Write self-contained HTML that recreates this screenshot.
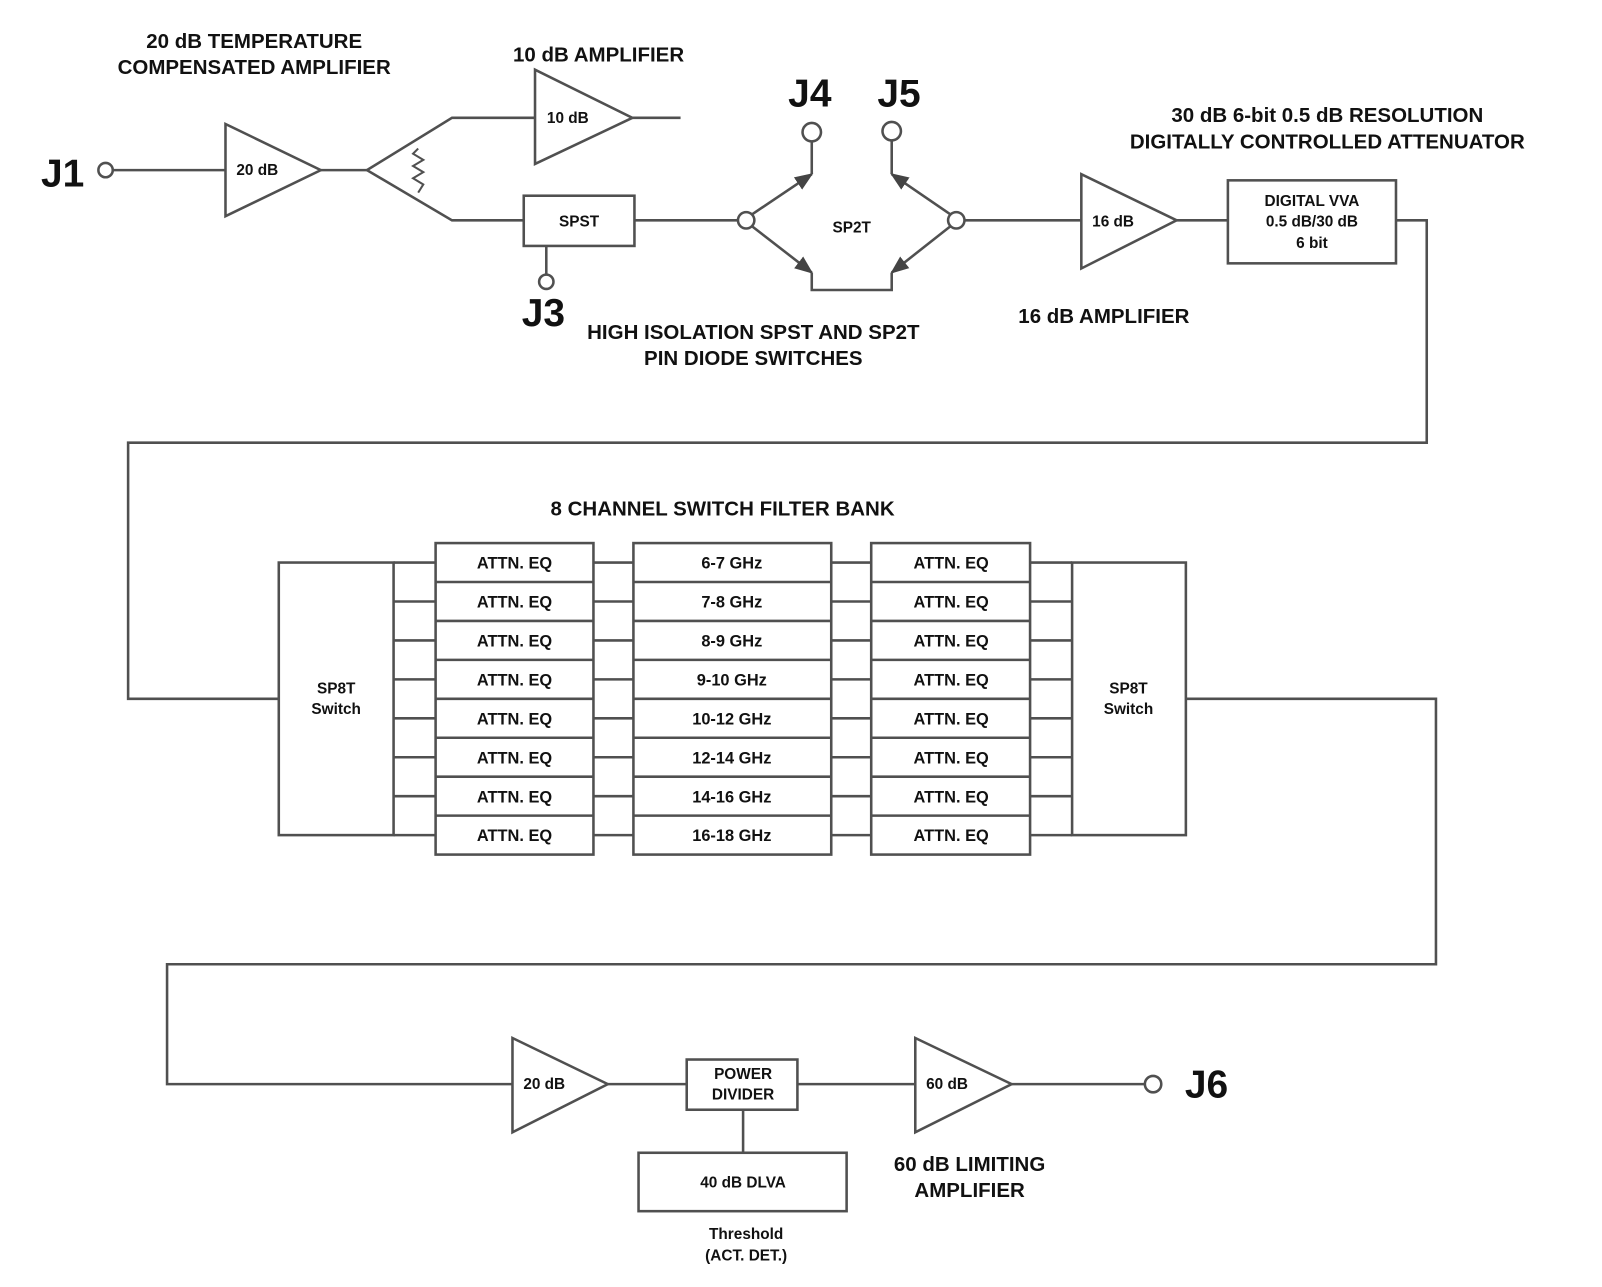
<!DOCTYPE html>
<html><head><meta charset="utf-8"><style>
html,body{margin:0;padding:0;background:#fff;}
svg{display:block;}
text{font-family:"Liberation Sans",Arial,sans-serif;font-weight:bold;fill:#111;}
</style></head><body>
<svg width="1602" height="1287" viewBox="0 0 1563 1256" preserveAspectRatio="none" xmlns="http://www.w3.org/2000/svg">
<defs>
<marker id="ah" viewBox="0 0 10 10" refX="9" refY="5" markerWidth="7" markerHeight="7" orient="auto" markerUnits="userSpaceOnUse">
<path d="M0,0 L10,5 L0,10 z" fill="#444"/></marker>
<marker id="ah2" viewBox="0 0 10 10" refX="9" refY="5" markerWidth="18" markerHeight="18" orient="auto" markerUnits="userSpaceOnUse">
<path d="M0,1 L10,5 L0,9 z" fill="#444"/></marker>
</defs>
<g stroke="#505050" stroke-width="2.5" fill="none">
<!-- top row -->
<circle cx="103" cy="166" r="7" fill="#fff"/>
<line x1="110" y1="166" x2="220" y2="166"/>
<polygon points="220,121 220,211 313,166"/>
<line x1="313" y1="166" x2="358" y2="166"/>
<polyline points="522,115 441,115 358,166 441,215 511,215"/>
<polyline points="408,145 403,150 413,156 403,162 413,168 403,174 413,180 408,188" stroke-width="2"/>
<polygon points="522,68 522,160 617,115"/>
<line x1="617" y1="115" x2="664" y2="115"/>
<rect x="511" y="191" width="108" height="49"/>
<line x1="533" y1="240" x2="533" y2="268"/>
<circle cx="533" cy="275" r="7" fill="#fff"/>
<line x1="619" y1="215" x2="720" y2="215"/>
<circle cx="728" cy="215" r="8" fill="#fff"/>
<circle cx="933" cy="215" r="8" fill="#fff"/>
<line x1="734" y1="209" x2="792" y2="170" marker-end="url(#ah2)"/>
<line x1="734" y1="221" x2="792" y2="266" marker-end="url(#ah2)"/>
<line x1="927" y1="209" x2="870" y2="170" marker-end="url(#ah2)"/>
<line x1="927" y1="221" x2="870" y2="266" marker-end="url(#ah2)"/>
<line x1="792" y1="170" x2="792" y2="138"/>
<line x1="870" y1="170" x2="870" y2="137"/>
<circle cx="792" cy="129" r="9" fill="#fff"/>
<circle cx="870" cy="128" r="9" fill="#fff"/>
<polyline points="792,266 792,283 870,283 870,266"/>
<line x1="941" y1="215" x2="1055" y2="215"/>
<polygon points="1055,170 1055,262 1148,215"/>
<line x1="1148" y1="215" x2="1198" y2="215"/>
<rect x="1198" y="176" width="164" height="81"/>
<polyline points="1362,215 1392,215 1392,432 125,432 125,682 272,682"/>
<!-- filter bank -->
<rect x="272" y="549" width="112" height="266"/>
<rect x="1046" y="549" width="111" height="266"/>
<g id="rows">
<rect x="425" y="530" width="154" height="304"/>
<rect x="618" y="530" width="193" height="304"/>
<rect x="850" y="530" width="155" height="304"/>
<path d="M425,568H579M425,606H579M425,644H579M425,682H579M425,720H579M425,758H579M425,796H579"/>
<path d="M618,568H811M618,606H811M618,644H811M618,682H811M618,720H811M618,758H811M618,796H811"/>
<path d="M850,568H1005M850,606H1005M850,644H1005M850,682H1005M850,720H1005M850,758H1005M850,796H1005"/>
<path d="M384,549H425M384,587H425M384,625H425M384,663H425M384,701H425M384,739H425M384,777H425M384,815H425"/>
<path d="M579,549H618M579,587H618M579,625H618M579,663H618M579,701H618M579,739H618M579,777H618M579,815H618"/>
<path d="M811,549H850M811,587H850M811,625H850M811,663H850M811,701H850M811,739H850M811,777H850M811,815H850"/>
<path d="M1005,549H1046M1005,587H1046M1005,625H1046M1005,663H1046M1005,701H1046M1005,739H1046M1005,777H1046M1005,815H1046"/>
</g>
<polyline points="1157,682 1401,682 1401,941 163,941 163,1058 500,1058"/>
<!-- bottom -->
<polygon points="500,1013 500,1105 593,1058"/>
<line x1="593" y1="1058" x2="670" y2="1058"/>
<rect x="670" y="1034" width="108" height="49"/>
<line x1="778" y1="1058" x2="893" y2="1058"/>
<polygon points="893,1013 893,1105 987,1058"/>
<line x1="987" y1="1058" x2="1117" y2="1058"/>
<circle cx="1125" cy="1058" r="8" fill="#fff"/>
<line x1="725" y1="1083" x2="725" y2="1125"/>
<rect x="623" y="1125" width="203" height="57"/>
</g>
<!-- texts -->
<g font-size="20" text-anchor="middle">
<text x="248" y="47">20 dB TEMPERATURE</text>
<text x="248" y="72">COMPENSATED AMPLIFIER</text>
<text x="584" y="60">10 dB AMPLIFIER</text>
<text x="1295" y="119">30 dB 6-bit  0.5 dB RESOLUTION</text>
<text x="1295" y="145">DIGITALLY CONTROLLED ATTENUATOR</text>
<text x="1077" y="315">16 dB AMPLIFIER</text>
<text x="735" y="331">HIGH ISOLATION SPST AND SP2T</text>
<text x="735" y="356">PIN DIODE SWITCHES</text>
<text x="705" y="503">8 CHANNEL SWITCH FILTER BANK</text>
<text x="946" y="1143">60 dB LIMITING</text>
<text x="946" y="1168">AMPLIFIER</text>
</g>
<g font-size="15" text-anchor="middle">
<text x="251" y="171">20 dB</text>
<text x="554" y="120">10 dB</text>
<text x="565" y="221">SPST</text>
<text x="831" y="227">SP2T</text>
<text x="1086" y="221">16 dB</text>
<text x="1280" y="201">DIGITAL VVA</text>
<text x="1280" y="221">0.5 dB/30 dB</text>
<text x="1280" y="242">6 bit</text>
<text x="328" y="677">SP8T</text>
<text x="328" y="697">Switch</text>
<text x="1101" y="677">SP8T</text>
<text x="1101" y="697">Switch</text>
<text x="531" y="1063">20 dB</text>
<text x="725" y="1053">POWER</text>
<text x="725" y="1073">DIVIDER</text>
<text x="924" y="1063">60 dB</text>
<text x="725" y="1159">40 dB DLVA</text>
<text x="728" y="1209">Threshold</text>
<text x="728" y="1230">(ACT. DET.)</text>
</g>
<g font-size="16" text-anchor="middle">
<text x="502" y="555">ATTN. EQ</text><text x="502" y="593">ATTN. EQ</text><text x="502" y="631">ATTN. EQ</text><text x="502" y="669">ATTN. EQ</text>
<text x="502" y="707">ATTN. EQ</text><text x="502" y="745">ATTN. EQ</text><text x="502" y="783">ATTN. EQ</text><text x="502" y="821">ATTN. EQ</text>
<text x="714" y="555">6-7 GHz</text><text x="714" y="593">7-8 GHz</text><text x="714" y="631">8-9 GHz</text><text x="714" y="669">9-10 GHz</text>
<text x="714" y="707">10-12 GHz</text><text x="714" y="745">12-14 GHz</text><text x="714" y="783">14-16 GHz</text><text x="714" y="821">16-18 GHz</text>
<text x="928" y="555">ATTN. EQ</text><text x="928" y="593">ATTN. EQ</text><text x="928" y="631">ATTN. EQ</text><text x="928" y="669">ATTN. EQ</text>
<text x="928" y="707">ATTN. EQ</text><text x="928" y="745">ATTN. EQ</text><text x="928" y="783">ATTN. EQ</text><text x="928" y="821">ATTN. EQ</text>
</g>
<g font-size="38">
<text x="40" y="182">J1</text>
<text x="509" y="318">J3</text>
<text x="769" y="104">J4</text>
<text x="856" y="104">J5</text>
<text x="1156" y="1071">J6</text>
</g>
</svg>
</body></html>
